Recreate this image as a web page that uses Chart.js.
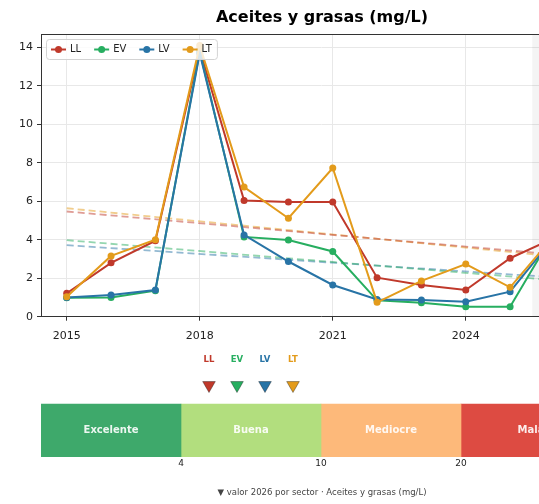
<!DOCTYPE html>
<html>
<head>
<meta charset="utf-8">
<script src="https://cdn.jsdelivr.net/npm/chart.js@4.4.1/dist/chart.umd.min.js"></script>
<style>
  html, body { margin: 0; padding: 0; background: #fff; overflow: hidden; }
  body { width: 539px; height: 504px; position: relative; }
  #main { position: absolute; left: 0; top: 0; }
  #band { position: absolute; left: 0; top: 350px; }
</style>
</head>
<body>
<canvas id="main" width="644" height="350" style="width:644px;height:350px"></canvas>
<canvas id="band" width="644" height="154" style="width:644px;height:154px"></canvas>
<script>
// Aceites y grasas - serie por sector + banda de calidad
const years = [2015, 2016, 2017, 2018, 2019, 2020, 2021, 2022, 2023, 2024, 2025, 2026];
const sectors = ['LL', 'EV', 'LV', 'LT'];
const valLL = [1.22, 2.80, 3.95, 13.9, 6.04, 5.96, 5.96, 2.03, 1.65, 1.39, 3.04, 4.10];
const valEV = [0.98, 1.00, 1.35, 13.8, 4.15, 3.99, 3.39, 0.85, 0.73, 0.52, 0.52, 4.40];
const valLV = [1.00, 1.13, 1.39, 13.7, 4.25, 2.87, 1.65, 0.90, 0.87, 0.78, 1.30, 4.15];
const valLT = [1.04, 3.16, 4.00, 14.1, 6.74, 5.12, 7.73, 0.75, 1.86, 2.74, 1.53, 4.23];

const trendYears = [2015, 2026];
const trendLL = [5.47, 3.24];
const trendEV = [3.98, 1.90];
const trendLV = [3.72, 2.05];
const trendLT = [5.64, 3.14];

const xTicks = [2015, 2018, 2021, 2024, 2027];
const yTicks = [0, 2, 4, 6, 8, 10, 12, 14];
const highlightSpan = [2025.5, 2026.5];

const bandNames = ['Excelente', 'Buena', 'Mediocre', 'Mala'];
const bandEdges = [0, 4, 10, 20];
const markerPos = [1.2, 1.4, 1.6, 1.8];

const seriesColors = ['#c0392b', '#27ae60', '#2874a6', '#e39b1b'];
const bandColors = ['#3ea96b', '#b2de7e', '#fdb97a', '#dd4b42'];

Chart.defaults.font.family = '"DejaVu Sans", sans-serif';

function rgba(hex, a) {
    const n = parseInt(hex.slice(1), 16);
    return 'rgba(' + (n >> 16) + ',' + ((n >> 8) & 255) + ',' + (n & 255) + ',' + a + ')';
}

function toPoints(xs, ys) {
    return xs.map(function (x, i) { return { x: x, y: ys[i] }; });
}

const series = [valLL, valEV, valLV, valLT];
const trends = [trendLL, trendEV, trendLV, trendLT];

const mainDatasets = [];
series.forEach(function (vals, i) {
    mainDatasets.push({
        label: sectors[i],
        data: toPoints(years, vals),
        borderColor: seriesColors[i],
        backgroundColor: seriesColors[i],
        borderWidth: 2,
        pointRadius: 3.5,
        pointHoverRadius: 3.5,
        pointBorderWidth: 0,
        tension: 0,
        order: 4 - i,
        inLegend: true,
        yAxisID: 'y'
    });
});
trends.forEach(function (t, i) {
    mainDatasets.push({
        label: sectors[i] + ' tendencia',
        data: toPoints(trendYears, t),
        borderColor: rgba(seriesColors[i], 0.5),
        borderDash: [7, 4],
        borderWidth: 1.8,
        pointRadius: 0,
        order: 10,
        yAxisID: 'y'
    });
});

const shadePlugin = {
    id: 'shade',
    beforeDatasetsDraw(chart) {
        const { ctx, chartArea: a, scales: { x } } = chart;
        const x0 = x.getPixelForValue(highlightSpan[0]);
        const x1 = x.getPixelForValue(highlightSpan[1]);
        ctx.save();
        ctx.fillStyle = 'rgba(0,0,0,0.045)';
        ctx.fillRect(x0, a.top, x1 - x0, a.bottom - a.top);
        ctx.restore();
    },
    afterDraw(chart) {
        const { ctx, chartArea: a } = chart;
        ctx.save();
        ctx.strokeStyle = '#333';
        ctx.lineWidth = 1;
        ctx.beginPath();
        ctx.moveTo(a.left, a.top + 0.5);
        ctx.lineTo(a.right, a.top + 0.5);
        ctx.moveTo(a.right - 0.5, a.top);
        ctx.lineTo(a.right - 0.5, a.bottom);
        ctx.stroke();
        ctx.restore();
    }
};

const legendPlugin = {
    id: 'boxLegend',
    afterDatasetsDraw(chart) {
        const { ctx, chartArea: a } = chart;
        const items = chart.data.datasets.filter(function (d) { return d.inLegend; });
        ctx.save();
        ctx.font = '10px "DejaVu Sans"';
        const widths = items.map(function (d) { return ctx.measureText(d.label).width; });
        const lineLen = 15, gapA = 4, gapB = 13, padX = 5;
        let total = padX * 2 + gapB * (items.length - 1);
        widths.forEach(function (w) { total += lineLen + gapA + w; });
        const bx = a.left + 5, by = a.top + 5, bh = 20;
        ctx.beginPath();
        ctx.roundRect(bx + 0.5, by + 0.5, total, bh, 3);
        ctx.fillStyle = 'rgba(255,255,255,0.8)';
        ctx.fill();
        ctx.strokeStyle = '#d3d3d3';
        ctx.lineWidth = 1;
        ctx.stroke();
        let cx = bx + padX;
        const cy = by + bh / 2 + 0.5;
        items.forEach(function (d, i) {
            ctx.strokeStyle = d.borderColor;
            ctx.lineWidth = 2;
            ctx.beginPath();
            ctx.moveTo(cx, cy);
            ctx.lineTo(cx + lineLen, cy);
            ctx.stroke();
            ctx.fillStyle = d.borderColor;
            ctx.beginPath();
            ctx.arc(cx + lineLen / 2, cy, 3.5, 0, Math.PI * 2);
            ctx.fill();
            ctx.fillStyle = '#222';
            ctx.textBaseline = 'middle';
            ctx.fillText(d.label, cx + lineLen + gapA, cy);
            cx += lineLen + gapA + widths[i] + gapB;
        });
        ctx.restore();
    }
};

new Chart(document.getElementById('main'), {
    type: 'line',
    data: { datasets: mainDatasets },
    options: {
        responsive: false,
        animation: false,
        layout: { padding: 0 },
        plugins: {
            legend: { display: false },
            tooltip: { enabled: false },
            title: {
                display: true,
                text: 'Aceites y grasas (mg/L)',
                color: '#000',
                font: { size: 16, weight: 'bold' },
                padding: { top: 8.5, bottom: 6.3 }
            }
        },
        scales: {
            x: {
                type: 'linear',
                min: 2014.42,
                max: 2027.05,
                offset: false,
                afterBuildTicks: function (s) { s.ticks = xTicks.map(function (v) { return { value: v }; }); },
                afterFit: function (s) { s.height = 33.3; },
                ticks: { callback: function (v) { return String(v); }, color: '#222', font: { size: 11 }, padding: 9, maxRotation: 0, autoSkip: false },
                grid: { color: '#e8e8e8', tickColor: '#333', tickLength: 4 },
                border: { color: '#333' }
            },
            y: {
                type: 'linear',
                position: 'left',
                min: 0,
                max: 14.7,
                afterBuildTicks: function (s) { s.ticks = yTicks.map(function (v) { return { value: v }; }); },
                afterFit: function (s) { s.width = 41; },
                ticks: { color: '#222', font: { size: 11 }, padding: 4 },
                grid: { color: '#e8e8e8', tickColor: '#333', tickLength: 4 },
                border: { color: '#333' }
            },
            yR: {
                type: 'linear',
                position: 'right',
                afterFit: function (s) { s.width = 43; },
                ticks: { display: false },
                grid: { display: false, drawTicks: false },
                border: { display: false }
            }
        }
    },
    plugins: [shadePlugin, legendPlugin]
});

// ---- banda de calidad ----
// area del grafico: desde la fila de marcadores hasta el pie de la banda
const markerRow = 1.353;
const bandRows = 1.64;
const bandDatasets = bandNames.map(function (n, i) {
    return {
        type: 'bar',
        label: n,
        data: [{ x: [i, i + 1], y: 0.5 }],
        backgroundColor: bandColors[i],
        borderWidth: 0,
        grouped: false,
        barPercentage: 1,
        categoryPercentage: 1,
        maxBarThickness: 53,
        order: 2,
        yAxisID: 'y'
    };
});
bandDatasets.push({
    type: 'scatter',
    label: '2026',
    data: markerPos.map(function (p) { return { x: p, y: markerRow }; }),
    pointStyle: 'triangle',
    rotation: 180,
    radius: 7.3,
    hoverRadius: 7.3,
    backgroundColor: seriesColors,
    borderColor: 'rgba(0,0,0,0.35)',
    borderWidth: 1,
    clip: false,
    order: 1,
    yAxisID: 'y'
});

const bandLabelPlugin = {
    id: 'bandLabels',
    afterDatasetsDraw(chart) {
        const { ctx } = chart;
        ctx.save();
        ctx.textAlign = 'center';
        ctx.textBaseline = 'middle';
        chart.data.datasets.forEach(function (d, i) {
            const meta = chart.getDatasetMeta(i);
            if (d.type === 'bar') {
                const c = meta.data[0].getCenterPoint();
                ctx.font = 'bold 10px "DejaVu Sans"';
                ctx.fillStyle = 'rgba(255,255,255,0.9)';
                ctx.fillText(d.label, c.x, c.y);
            } else {
                ctx.font = 'bold 8.5px "DejaVu Sans"';
                meta.data.forEach(function (pt, k) {
                    ctx.fillStyle = seriesColors[k];
                    ctx.fillText(sectors[k], pt.x, pt.y - 25);
                });
            }
        });
        ctx.restore();
    }
};

new Chart(document.getElementById('band'), {
    type: 'bar',
    data: { datasets: bandDatasets },
    options: {
        responsive: false,
        animation: false,
        indexAxis: 'y',
        layout: { padding: { top: 20, left: 0, right: 0, bottom: 0 } },
        plugins: {
            legend: { display: false },
            tooltip: { enabled: false },
            title: {
                display: true,
                position: 'bottom',
                text: '\u25BC valor 2026 por sector \u00B7 Aceites y grasas (mg/L)',
                color: '#444',
                font: { size: 8.5, weight: 'normal' },
                padding: { top: 11, bottom: 5.8 }
            }
        },
        scales: {
            x: {
                type: 'linear',
                min: 0,
                max: bandNames.length,
                offset: false,
                afterBuildTicks: function (s) { s.ticks = [1, 2, 3].map(function (v) { return { value: v }; }); },
                afterFit: function (s) { s.height = 20; },
                ticks: { callback: function (v) { return String(bandEdges[v]); }, color: '#222', font: { size: 9 }, padding: 1, maxRotation: 0, autoSkip: false },
                grid: { display: false, drawTicks: false },
                border: { display: false }
            },
            y: {
                type: 'linear',
                position: 'left',
                min: 0,
                max: bandRows,
                offset: false,
                afterBuildTicks: function (s) { s.ticks = [{ value: 0.5 }]; },
                afterFit: function (s) { s.width = 41; },
                ticks: { display: false },
                grid: { display: false, drawTicks: false, offset: false },
                border: { display: false }
            },
            yR: {
                type: 'linear',
                position: 'right',
                afterFit: function (s) { s.width = 43; },
                ticks: { display: false },
                grid: { display: false, drawTicks: false },
                border: { display: false }
            }
        }
    },
    plugins: [bandLabelPlugin]
});
</script>
</body>
</html>
